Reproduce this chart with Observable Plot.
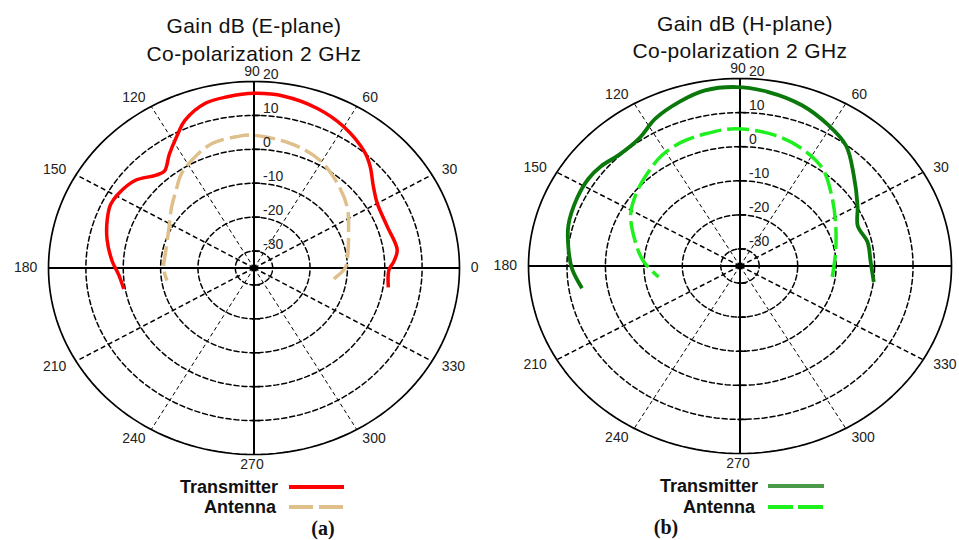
<!DOCTYPE html>
<html>
<head>
<meta charset="utf-8">
<script src="https://cdn.jsdelivr.net/npm/d3@7"></script>
<script src="https://cdn.jsdelivr.net/npm/@observablehq/plot@0.6"></script>
<style>
  body { margin: 0; background: #fff; }
  #wrap { position: relative; width: 959px; height: 540px; overflow: hidden; font-family: "Liberation Sans", Arial, sans-serif; color: #111; }
  .panel { position: absolute; top: 0; }
  .c { position: absolute; transform: translate(-50%, -50%); white-space: nowrap; line-height: 1; }
  .title { font-size: 21px; letter-spacing: 0.4px; }
  .leg { position: absolute; transform: translateY(-50%); white-space: nowrap; line-height: 1; font-weight: bold; font-size: 18px; text-align: right; }
  .cap { font-family: "Liberation Serif", "Times New Roman", serif; font-weight: bold; font-size: 20px; }
  svg.sw { position: absolute; overflow: visible; }
</style>
</head>
<body>
<div id="wrap"></div>
<script>
// ---------- data ----------
const ringValues = [20, 10, 0, -10, -20, -30];   // dB rings (outer = 20)
const angleTicks = [0, 30, 60, 90, 120, 150, 180, 210, 240, 270, 300, 330];
const centerValue = -35;                          // dB at the pole

// (a) E-plane
const eTxAngles = [-9, -1, 3, 8, 19, 30, 37, 44, 49, 60, 70, 81, 90, 98, 105, 113, 118, 124, 130, 134, 141, 149, 154, 160, 168, 177, 183, 190];
const eTxGain   = [1.4, 1.1, 2.5, 3.7, 2.7, 3.1, 5.0, 8.2, 10.2, 13.1, 15.0, 16.3, 16.5, 16.0, 15.3, 12.3, 9.0, 5.5, 2.3, 3.0, 6.0, 7.4, 7.7, 6.8, 5.2, 3.0, 1.3, 0.4];
const eAntAngles = [-8.5, 0, 7, 24, 36, 50, 62, 75, 91, 97, 107, 116, 125, 132, 141, 154, 170, 180, 189];
const eAntGain   = [-13.4, -10.6, -9.8, -7.3, -4.2, -1.1, 1.5, 3.0, 4.2, 4.0, 3.4, 1.3, -1.1, -3.9, -6.6, -9.6, -10.9, -10.8, -11.4];

// (b) H-plane
const hTxAngles = [-7.7, 2, 12, 21, 30, 42, 52, 61, 71, 82, 91, 100, 108, 117, 125, 134, 141, 147, 155, 165, 173.5, 181, 189];
const hTxGain   = [0.1, -1.0, -1.1, -2.2, 0.3, 4.8, 9.8, 12.3, 14.8, 16.6, 17.5, 17.3, 15.7, 13.5, 10.7, 10.3, 11.5, 12.0, 11.8, 11.2, 9.9, 8.7, 6.6];
const hAntAngles = [-7.6, 9.4, 25.6, 39.5, 53, 65, 76.5, 91.7, 103, 112.5, 122, 131, 141, 152, 165.5, 177, 188.7];
const hAntGain   = [-10.8, -9.8, -7.4, -3.9, 0.7, 3.0, 4.4, 5.3, 4.8, 4.4, 3.3, 1.4, -0.5, -2.8, -6.9, -9.9, -13.6];

// ---------- helpers ----------
const R = ringValues[0] - centerValue;
const rad = a => a * Math.PI / 180;
const toXY = (angles, gains) => angles.map((a, i) => {
  const r = gains[i] - centerValue;
  return { x: r * Math.cos(rad(a)), y: r * Math.sin(rad(a)) };
});

function ringPoints(values) {
  const pts = [];
  for (const v of values) {
    const r = v - centerValue;
    for (let a = 0; a <= 360; a += 2) pts.push({ v, x: r * Math.cos(rad(a)), y: r * Math.sin(rad(a)) });
  }
  return pts;
}

function polarChart(opts) {
  const { width, ml, mr, mt, mb, series, hiddenAngles = [] } = opts;
  const spokes = angleTicks.filter(a => a % 90 !== 0).map(a => ({
    a, thick: a % 60 === 30, x2: R * Math.cos(rad(a)), y2: R * Math.sin(rad(a))
  }));
  const axes = [{ x1: -R, y1: 0, x2: R, y2: 0 }, { x1: 0, y1: -R, x2: 0, y2: R }];
  const ticks = ringValues.slice(1).flatMap(v => [v - centerValue, -(v - centerValue)]).map(y => ({ y }));
  const ringLabels = ringValues.map(v => ({ v, y: v - centerValue }));
  const LR = 58;
  const angleLabels = angleTicks.filter(a => !hiddenAngles.includes(a))
    .map(a => ({ a, x: LR * Math.cos(rad(a)), y: LR * Math.sin(rad(a)), c: Math.cos(rad(a)) }));
  const font = "Liberation Sans, Arial, sans-serif";

  return Plot.plot({
    width, height: 540,
    marginLeft: ml, marginRight: mr, marginTop: mt, marginBottom: mb,
    x: { domain: [-R, R], axis: null },
    y: { domain: [-R, R], axis: null },
    style: { background: "transparent", overflow: "visible" },
    marks: [
      Plot.line(ringPoints(ringValues.slice(1)), { x: "x", y: "y", z: "v", stroke: "#000", strokeWidth: 1.5, strokeDasharray: "5,3" }),
      Plot.line(ringPoints([ringValues[0]]), { x: "x", y: "y", stroke: "#000", strokeWidth: 1.7 }),
      Plot.link(spokes.filter(d => d.thick), { x1: d => 0, y1: d => 0, x2: "x2", y2: "y2", stroke: "#000", strokeWidth: 1.5, strokeDasharray: "5,3" }),
      Plot.link(spokes.filter(d => !d.thick), { x1: d => 0, y1: d => 0, x2: "x2", y2: "y2", stroke: "#000", strokeWidth: 1, strokeDasharray: "4,3" }),
      Plot.link(axes, { x1: "x1", y1: "y1", x2: "x2", y2: "y2", stroke: "#000", strokeWidth: 2 }),
      Plot.link(ticks, { x1: d => -0.6, x2: d => 1.6, y1: "y", y2: "y", stroke: "#000", strokeWidth: 1.6 }),
      Plot.dot([0], { x: d => 0, y: d => 0, r: 3.5, fill: "#000" }),
      ...series.map(s => Plot.line(toXY(s.angles, s.gains), {
        x: "x", y: "y", stroke: s.color, strokeWidth: s.width, strokeDasharray: s.dash, curve: "catmull-rom", strokeLinecap: "butt"
      })),
      Plot.text(ringLabels, { x: d => 0, y: "y", text: d => String(d.v), dx: 9, dy: -7, textAnchor: "start", fontSize: 14, fill: "#222", fontFamily: font }),
      Plot.text(angleLabels.filter(d => d.c > 0.2), { x: "x", y: "y", text: d => String(d.a), textAnchor: "start", fontSize: 14, fill: "#222", fontFamily: font }),
      Plot.text(angleLabels.filter(d => d.c < -0.2), { x: "x", y: "y", text: d => String(d.a), textAnchor: "end", fontSize: 14, fill: "#222", fontFamily: font }),
      Plot.text(angleLabels.filter(d => Math.abs(d.c) <= 0.2), { x: "x", y: "y", text: d => String(d.a), dx: -2, textAnchor: "middle", fontSize: 14, fill: "#222", fontFamily: font })
    ]
  });
}

// ---------- layout ----------
const wrap = document.getElementById("wrap");

const left = polarChart({
  width: 480, ml: 48, mr: 21, mt: 81, mb: 86,
  series: [
    { angles: eAntAngles, gains: eAntGain, color: "#dfbf8a", width: 3.5, dash: "20,6" },
    { angles: eTxAngles, gains: eTxGain, color: "#ff0000", width: 3.5, dash: null }
  ]
});
left.classList.add("panel"); left.style.left = "0px";
wrap.appendChild(left);

const right = polarChart({
  width: 479, ml: 48, mr: 8, mt: 78, mb: 87,
  hiddenAngles: [0],   // the 0° label falls outside the picture in the reference
  series: [
    { angles: hAntAngles, gains: hAntGain, color: "#1ef01e", width: 3.5, dash: "22,6" },
    { angles: hTxAngles, gains: hTxGain, color: "#0a780a", width: 3.8, dash: null }
  ]
});
right.classList.add("panel"); right.style.left = "480px";
wrap.appendChild(right);

function centered(text, x, y, cls) {
  const d = document.createElement("div");
  d.className = "c " + cls; d.textContent = text;
  d.style.left = x + "px"; d.style.top = y + "px";
  wrap.appendChild(d);
}
centered("Gain dB (E-plane)", 254, 25, "title");
centered("Co-polarization 2 GHz", 254, 53, "title");
centered("Gain dB (H-plane)", 745, 23, "title");
centered("Co-polarization 2 GHz", 740, 50, "title");
centered("(a)", 323, 528, "cap");
centered("(b)", 666, 527, "cap");

const legends = [
  { label: "Transmitter", right: 278, y: 487, x1: 289, x2: 344, color: "#ff0000", dash: null },
  { label: "Antenna", right: 276, y: 507, x1: 289, x2: 344, color: "#dfbf8a", dash: "24,6" },
  { label: "Transmitter", right: 758, y: 486, x1: 768, x2: 824, color: "#4a9a4a", dash: null },
  { label: "Antenna", right: 755, y: 507, x1: 768, x2: 824, color: "#1ef01e", dash: "25,5" }
];
for (const l of legends) {
  const d = document.createElement("div");
  d.className = "leg"; d.textContent = l.label;
  d.style.right = (959 - l.right) + "px"; d.style.top = l.y + "px";
  wrap.appendChild(d);
  const ns = "http://www.w3.org/2000/svg";
  const s = document.createElementNS(ns, "svg");
  s.setAttribute("class", "sw");
  s.setAttribute("width", l.x2 - l.x1); s.setAttribute("height", 6);
  s.style.left = l.x1 + "px"; s.style.top = (l.y - 3) + "px";
  const ln = document.createElementNS(ns, "line");
  ln.setAttribute("x1", 0); ln.setAttribute("x2", l.x2 - l.x1);
  ln.setAttribute("y1", 3); ln.setAttribute("y2", 3);
  ln.setAttribute("stroke", l.color); ln.setAttribute("stroke-width", 4);
  if (l.dash) ln.setAttribute("stroke-dasharray", l.dash);
  s.appendChild(ln);
  wrap.appendChild(s);
}
</script>
</body>
</html>
